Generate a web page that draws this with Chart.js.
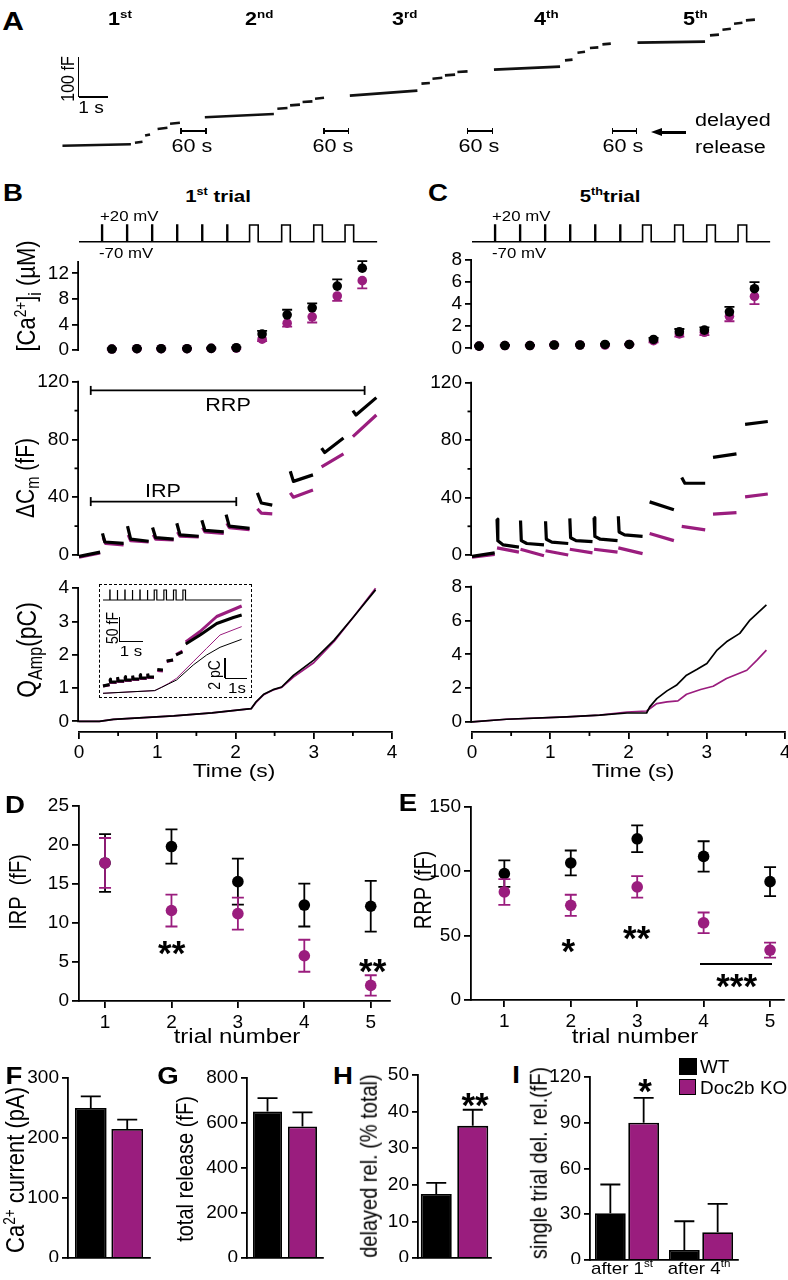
<!DOCTYPE html>
<html><head><meta charset="utf-8"><title>Doc2b figure</title>
<script src="https://cdn.jsdelivr.net/npm/chart.js@4.4.1/dist/chart.umd.min.js"></script>
<style>
html,body{margin:0;padding:0;background:#fff;}
#fig{position:relative;width:788px;height:1280px;overflow:hidden;font-family:'Liberation Sans',Arial,Helvetica,sans-serif;color:#000;}
#fig canvas{position:absolute;}
.t{position:absolute;white-space:nowrap;line-height:1;}
.t sup{font-size:0.62em;vertical-align:0.6em;line-height:0;}
.t sub{font-size:0.7em;vertical-align:-0.3em;line-height:0;}
.ln{position:absolute;background:#000;}
</style></head>
<body><div id="fig"></div>
<script>
// ================= DATA =================
// Panel A: capacitance of 5 successive trials (x: s, y: fF; null = gap)
const aTime = [0.43,2.79,null, 2.93,3.19,null, 3.28,3.45,null, 3.71,4.05,null, 4.14,4.48,null,
  5.34,7.72,null, 7.84,8.19,null, 8.28,8.62,null, 8.71,9.05,null, 9.14,9.45,null,
  10.34,12.67,null, 12.81,13.10,null, 13.19,13.53,null, 13.62,13.97,null, 14.05,14.40,null,
  15.31,17.59,null, 17.76,18.02,null, 18.19,18.45,null, 18.62,18.91,null, 19.05,19.34,null,
  20.26,22.59,null, 22.76,23.07,null, 23.19,23.48,null, 23.59,23.88,null, 24.00,24.31];
const aCap = [0.75,4.25,null, 8,10.5,null, 26,29,null, 42.5,45.5,null, 55.5,58,null,
  72,80,null, 93,95,null, 101.5,103.5,null, 110,111.5,null, 118,120.5,null,
  126,138.5,null, 156,157.5,null, 168,170.5,null, 176.5,178.5,null, 185,186.5,null,
  191,198.5,null, 214,216,null, 233,235.5,null, 245,246.5,null, 254,256,null,
  258.5,261,null, 276.5,278.5,null, 290.5,293,null, 305.5,308,null, 314,316];
const trialLabels = ['1<sup>st</sup>','2<sup>nd</sup>','3<sup>rd</sup>','4<sup>th</sup>','5<sup>th</sup>'];

// Stimulation protocol (s, mV)
const pulseStart = [0.29,0.61,0.93,1.25,1.57,1.89,2.18,2.59,3.00,3.40];
const pulseDur   = [0.01,0.01,0.01,0.01,0.01,0.01,0.11,0.11,0.11,0.11];
const vHold = -70, vStep = 20;

// [Ca2+]i (uM), 1st trial (B) and 5th trial (C)
const caTimeB = [0.42,0.74,1.05,1.38,1.69,2.01,2.34,2.66,2.98,3.30,3.62];
const caWT_B = [0.15,0.2,0.2,0.2,0.25,0.35,2.5,5.5,6.6,10.0,12.8];
const caWT_Bsem = [0.1,0.1,0.1,0.1,0.1,0.1,0.5,0.8,0.7,1.05,1.1];
const caKO_B = [0.15,0.2,0.2,0.2,0.25,0.3,1.7,4.2,5.2,8.45,10.85];
const caKO_Bsem = [0.1,0.1,0.1,0.1,0.1,0.1,0.3,0.55,0.9,0.75,1.2];
const caTimeC = [0.09,0.42,0.74,1.05,1.38,1.70,2.01,2.32,2.65,2.97,3.29,3.61];
const caWT_C = [0.2,0.25,0.25,0.3,0.3,0.35,0.35,0.8,1.5,1.65,3.3,5.4];
const caWT_Csem = [0.05,0.05,0.05,0.05,0.05,0.05,0.05,0.15,0.25,0.25,0.45,0.6];
const caKO_C = [0.2,0.25,0.25,0.3,0.3,0.3,0.35,0.7,1.3,1.45,2.9,4.7];
const caKO_Csem = [0.05,0.05,0.05,0.05,0.05,0.05,0.05,0.15,0.25,0.25,0.45,0.7];

// Delta Cm traces (s, fF)
const dcmTimeB_WT = [0,0.27,null, 0.30,0.33,0.57,null, 0.62,0.66,0.89,null, 0.94,0.98,1.21,null, 1.25,1.29,1.53,null, 1.57,1.61,1.85,null, 1.88,1.92,2.18,null, 2.28,2.33,2.47,null, 2.70,2.74,2.99,null, 3.10,3.14,3.38,null, 3.50,3.54,3.80];
const dcmWT_B     = [-1,2,null, 15,9,8,null, 20,11,9.5,null, 19,12,11,null, 22,14,13,null, 24,17,16,null, 28,20,18.5,null, 43,36,34.5,null, 58,51,55.5,null, 74,71,81,null, 100,97,109];
const dcmTimeB_KO = [0,0.27,null, 0.31,0.34,0.57,null, 0.63,0.66,0.89,null, 0.95,0.98,1.21,null, 1.26,1.29,1.53,null, 1.58,1.61,1.85,null, 1.89,1.92,2.18,null, 2.28,2.33,2.47,null, 2.70,2.74,2.99,null, 3.10,3.38,null, 3.50,3.80];
const dcmKO_B     = [-1.5,1.5,null, 12,8,7,null, 14,10,9,null, 14,11,10.5,null, 16,13,12.5,null, 19,16,15,null, 22,19,17.5,null, 32,29,28.5,null, 43,40,45,null, 61,70,null, 82,97];
const dcmTimeC_WT = [0,0.29,null, 0.32,0.33,0.40,0.60,null, 0.62,0.63,0.70,0.92,null, 0.94,0.95,1.02,1.23,null, 1.25,1.26,1.33,1.54,null, 1.56,1.57,1.64,1.86,null, 1.87,1.88,1.95,2.18,null, 2.27,2.58,null, 2.68,2.72,2.98,null, 3.08,3.38,null, 3.49,3.78];
const dcmWT_C     = [-1,1.5,null, 25,10,7,5.5,null, 24,10,8,7,null, 23.5,11,9,8,null, 25.5,12,10,9.3,null, 26,13,11,10,null, 27,16,14,13,null, 37,31.5,null, 54,50,50,null, 68,70.5,null, 91,93];
const dcmTimeC_KO = [0,0.29,null, 0.32,0.60,null, 0.62,0.92,null, 0.94,1.23,null, 1.25,1.54,null, 1.56,1.86,null, 1.87,2.18,null, 2.27,2.58,null, 2.68,2.98,null, 3.08,3.38,null, 3.49,3.78];
const dcmKO_C     = [-1.5,0.5,null, 5,2,null, 4,-0.5,null, 3,0,null, 4,1.5,null, 4,2,null, 5,1,null, 15,10,null, 20,17.5,null, 28.5,29.5,null, 40.5,42.5];
const rrpSpan = [0.15,3.65], rrpLevel = 114, irpSpan = [0.15,2.01], irpLevel = 37;

// Integrated Ca current Q_Amp (s, pC)
const qTimeB = [0,0.26,0.44,1.21,1.7,2.2,2.26,2.36,2.48,2.59,2.74,3.0,3.26,3.51,3.79];
const qWT_B  = [0,0,0.06,0.16,0.25,0.38,0.58,0.81,0.95,1.03,1.38,1.84,2.44,3.14,3.95];
const qKO_B  = [0,0,0.06,0.16,0.25,0.38,0.56,0.80,0.94,1.02,1.33,1.76,2.40,3.14,4.0];
const qTimeC_WT = [0,0.44,1.21,1.63,1.98,2.23,2.27,2.36,2.49,2.61,2.74,2.87,3.0,3.13,3.25,3.42,3.55,3.76];
const qWT_C     = [0,0.16,0.3,0.4,0.53,0.53,0.89,1.38,1.84,2.17,2.77,3.1,3.46,4.25,4.74,5.24,6.03,6.92];
const qTimeC_KO = [0,0.44,1.21,1.63,1.98,2.23,2.36,2.49,2.63,2.74,2.92,3.08,3.25,3.51,3.64,3.76];
const qKO_C     = [0,0.16,0.3,0.4,0.59,0.65,1.09,1.19,1.25,1.64,1.92,2.11,2.57,3.06,3.66,4.25];

// Inset (extended recording): Cm (fF) and Q (pC)
const insTime = [0,0.28,null, 0.30,0.32,0.58,null, 0.62,0.64,0.9,null, 0.94,0.96,1.22,null, 1.26,1.28,1.54,null, 1.58,1.60,1.86,null, 1.9,1.92,2.17,null, 2.31,2.55,null, 2.71,2.98,null, 3.11,3.38,null, 3.52,4.13,4.84,5.55,5.9];
const insCmWT = [0,3,null, 14,8,8,null, 18,10,10,null, 19,12,12,null, 21,14,14,null, 23,16,16,null, 25,18,18,null, 33,32,null, 50,52,null, 62,68,null, 84,102,125,137,142];
const insCmKO = [0,2,null, 12,7,7,null, 16,9,9,null, 17,11,11,null, 19,13,13,null, 21,15,15,null, 23,17,17,null, 31,30,null, 49,52,null, 63,70,null, 88,109,139,153,160];
const insQTime = [0,2.2,2.5,2.8,3.13,3.84,4.41,4.98,5.9];
const insQWT = [0,0.27,0.6,0.95,1.33,2.83,3.83,4.6,5.4];
const insQKO = [0,0.27,0.62,1.0,1.5,3.16,4.5,5.83,6.67];

// D, E: pool sizes per trial (fF, mean and SEM)
const trials = [1,2,3,4,5];
const irpWT = [17.7,19.8,15.3,12.3,12.15], irpWTsem = [3.7,2.2,2.95,2.75,3.25];
const irpKO = [17.7,11.6,11.2,5.8,2.0],    irpKOsem = [3.2,2.05,2.05,2.05,1.3];
const rrpWT = [98.2,106.5,125.3,111.6,92.0], rrpWTsem = [10.3,9.7,10.4,11.8,11.2];
const rrpKO = [84.0,73.6,87.9,60.0,38.8],    rrpKOsem = [10.0,8.2,8.4,8.0,5.8];

// F-I: bar values (WT, Doc2b KO) and SEM
const caCurrent = [250,215], caCurrentSem = [19.4,15.5];
const totalRelease = [651,585], totalReleaseSem = [60,62];
const delayedPct = [17.5,36.1], delayedPctSem = [3.0,4.4];
const singleGroups = ['after 1st','after 4th'];
const singleWT = [30.7,6.6], singleWTsem = [18.8,18.8];
const singleKO = [90.0,18.2], singleKOsem = [16.3,18.6];

// ================= DRAWING =================
const FONT = "'Liberation Sans', Arial, Helvetica, sans-serif";
const BLK = '#000000', PUR = '#9a1d7e';
const AXW = 1.8, TICKFS = 19;
const fig = document.getElementById('fig');
Chart.defaults.font.family = FONT;

const errPlug = {
  id: 'errb',
  beforeDatasetDraw(chart, args) {
    const ds = chart.data.datasets[args.index];
    if (!ds.errUp && !ds.errDn) return;
    const meta = args.meta, ys = chart.scales[meta.yAxisID], ctx = chart.ctx;
    ctx.save(); ctx.strokeStyle = ds.errColor || BLK; ctx.lineWidth = ds.errLW || 1.8;
    meta.data.forEach((el, i) => {
      const v = meta._parsed[i].y, x = el.x, cw = ds.capW || 5;
      [[ds.errUp, 1], [ds.errDn, -1]].forEach(([arr, s]) => {
        if (!arr || !arr[i]) return;
        const p0 = ys.getPixelForValue(v), p1 = ys.getPixelForValue(v + s * arr[i]);
        ctx.beginPath(); ctx.moveTo(x, p0); ctx.lineTo(x, p1);
        ctx.moveTo(x - cw, p1); ctx.lineTo(x + cw, p1); ctx.stroke();
      });
    });
    ctx.restore();
  }
};
const axPlug = {
  id: 'axl',
  afterDraw(chart) {
    const o = (chart.config.options.plugins || {}).axl || {};
    const ctx = chart.ctx, ca = chart.chartArea, xs = chart.scales.x, ys = chart.scales.y;
    ctx.save(); ctx.strokeStyle = BLK; ctx.lineWidth = AXW;
    const seg = (a, b, c, d) => { ctx.beginPath(); ctx.moveTo(a, b); ctx.lineTo(c, d); ctx.stroke(); };
    if (o.y) seg(ca.left - 0.9, ys.getPixelForValue(o.y[0]) + 0.9, ca.left - 0.9, ys.getPixelForValue(o.y[1]) - 0.9);
    (o.ym || []).forEach(v => { const p = ys.getPixelForValue(v); seg(ca.left - 4.5, p, ca.left, p); });
    (o.xm || []).forEach(v => { const p = xs.getPixelForValue(v); seg(p, ca.bottom, p, ca.bottom + 4); });
    ctx.restore();
  }
};

function scaleCfg(a, isX, fit) {
  const c = {
    type: a.type || 'linear', display: !!a.show, position: isX ? 'bottom' : 'left',
    grid: {display: !!a.ticks, drawOnChartArea: false, drawTicks: true, tickLength: a.tl || 7,
           color: BLK, tickColor: BLK, tickWidth: AXW, lineWidth: AXW},
    border: {display: !!a.border, color: BLK, width: AXW},
    ticks: {display: !!a.ticks, color: BLK, font: {family: FONT, size: a.fs || TICKFS}, padding: a.pad ?? 3,
            maxRotation: 0, minRotation: 0, autoSkip: false},
    afterFit: s => {
      if (isX) s.height = fit; else s.width = fit;
      s.paddingTop = 0; s.paddingBottom = 0; s.paddingLeft = 0; s.paddingRight = 0;
    }
  };
  if (c.type === 'linear') {
    c.min = a.min; c.max = a.max;
    if (a.ticks) c.afterBuildTicks = s => { s.ticks = a.ticks.map(v => ({value: v})); };
  }
  return c;
}
function mk(o) {
  const [x0, y0, x1, y1] = o.area, [ml, mt, mr, mb] = o.m || [0, 0, 0, 0];
  const W = Math.round(x1 - x0 + ml + mr), H = Math.round(y1 - y0 + mt + mb);
  const cv = document.createElement('canvas');
  cv.width = W; cv.height = H;
  Object.assign(cv.style, {left: (x0 - ml) + 'px', top: (y0 - mt) + 'px', width: W + 'px', height: H + 'px'});
  fig.appendChild(cv);
  const xs = o.x || {}, ys = o.y || {};
  const scales = {x: scaleCfg(xs, true, mb), y: scaleCfg(ys, false, ml)};
  if (o.extraY) Object.assign(scales, o.extraY);
  return new Chart(cv, {
    type: o.type || 'scatter',
    data: {labels: o.labels, datasets: o.datasets},
    options: {
      responsive: false, maintainAspectRatio: false, animation: false, devicePixelRatio: 1, events: [],
      layout: {autoPadding: false, padding: {left: ys.show ? 0 : ml, top: mt, right: mr, bottom: xs.show ? 0 : mb}},
      scales,
      plugins: {legend: {display: false}, tooltip: {enabled: false}, axl: o.axl || {}}
    },
    plugins: [errPlug, axPlug]
  });
}
function ln(ts, vs, color, w, extra) {
  let px = 0;
  const data = ts.map((t, i) => { if (t === null) return {x: px, y: null}; px = t; return {x: t, y: vs[i]}; });
  return Object.assign({data, showLine: true, borderColor: color, backgroundColor: color, borderWidth: w,
    pointRadius: 0, spanGaps: false, tension: 0, borderJoinStyle: 'round'}, extra || {});
}
function sc(xs, vs, color, extra) {
  return Object.assign({data: xs.map((x, i) => ({x, y: vs[i]})), showLine: false, pointRadius: 4.8,
    pointBackgroundColor: color, pointBorderColor: color, pointBorderWidth: 0, backgroundColor: color,
    borderColor: color, errColor: color, capW: 5}, extra || {});
}
function bracket(span, level) {
  return {data: [{x: span[0], y: level}, {x: span[1], y: level}], showLine: true, borderColor: BLK, borderWidth: 1.8,
    pointStyle: 'line', pointRotation: 90, pointRadius: 4.5, pointBorderColor: BLK, pointBorderWidth: 1.8};
}
function stimPts(tEnd) {
  const p = [{x: 0, y: vHold}];
  pulseStart.forEach((s, i) => { const e = s + pulseDur[i]; p.push({x: s, y: vHold}, {x: s, y: vStep}, {x: e, y: vStep}, {x: e, y: vHold}); });
  p.push({x: tEnd, y: vHold});
  return p;
}
function stimDs(tEnd, w, axis) {
  return {data: stimPts(tEnd), showLine: true, borderColor: BLK, borderWidth: w, pointRadius: 0, tension: 0, yAxisID: axis || 'y'};
}

// ---- Panel A
mk({area: [50, 10, 770, 160], x: {min: 0, max: 24.83}, y: {min: -35, max: 340},
  datasets: [ln(aTime, aCap, '#111', 2.6)]});

// ---- Panel B (1st trial) & C (5th trial)
const colB = {x0: 79, x1: 391.5}, colC = {x0: 472, x1: 785.2};
[colB, colC].forEach(c => {
  mk({area: [c.x0, 222, c.x1, 245], x: {min: 0, max: 4}, y: {min: -87.8, max: 36.2},
    datasets: [stimDs(3.81, 1.6)]});
});
mk({area: [79, 256, 391.5, 362], m: [79, 12, 4, 0], x: {min: 0, max: 4},
  y: {show: true, min: -1.878, max: 14.71, ticks: [0, 4, 8, 12]}, axl: {y: [0, 13.8]},
  datasets: [sc(caTimeB, caWT_B, BLK, {errUp: caWT_Bsem}), sc(caTimeB, caKO_B, PUR, {errDn: caKO_Bsem})]});
mk({area: [472, 256, 785.2, 362], m: [50, 12, 2, 0], x: {min: 0, max: 4},
  y: {show: true, min: -1.24, max: 8.36, ticks: [0, 2, 4, 6, 8]}, axl: {y: [0, 8]},
  datasets: [sc(caTimeC, caWT_C, BLK, {errUp: caWT_Csem}), sc(caTimeC, caKO_C, PUR, {errDn: caKO_Csem})]});
mk({area: [79, 378, 391.5, 565], m: [79, 12, 4, 0], x: {min: 0, max: 4},
  y: {show: true, min: -6.93, max: 122.6, ticks: [0, 40, 80, 120]}, axl: {y: [0, 120], ym: [20, 60, 100]},
  datasets: [bracket(rrpSpan, rrpLevel), bracket(irpSpan, irpLevel),
    ln(dcmTimeB_WT, dcmWT_B, BLK, 3.2), ln(dcmTimeB_KO, dcmKO_B, PUR, 3.2)]});
mk({area: [472, 378, 785.2, 565], m: [50, 12, 2, 0], x: {min: 0, max: 4},
  y: {show: true, min: -6.96, max: 123.3, ticks: [0, 40, 80, 120]}, axl: {y: [0, 120], ym: [20, 60, 100]},
  datasets: [ln(dcmTimeC_WT, dcmWT_C, BLK, 3.2), ln(dcmTimeC_KO, dcmKO_C, PUR, 3.2)]});
mk({area: [79, 585, 391.5, 731.7], m: [79, 12, 8, 34],
  x: {show: true, border: true, min: 0, max: 4, ticks: [0, 1, 2, 3, 4], pad: 2},
  y: {show: true, min: -0.322, max: 4.096, ticks: [0, 1, 2, 3, 4]}, axl: {y: [0, 4], xm: [0.5, 1.5, 2.5, 3.5]},
  datasets: [ln(qTimeB, qWT_B, BLK, 1.7), ln(qTimeB, qKO_B, PUR, 1.7)]});
mk({area: [472, 585, 785.2, 731.7], m: [50, 12, 2.8, 34],
  x: {show: true, border: true, min: 0, max: 4, ticks: [0, 1, 2, 3, 4], pad: 2},
  y: {show: true, min: -0.593, max: 8.10, ticks: [0, 2, 4, 6, 8]}, axl: {y: [0, 8], xm: [0.5, 1.5, 2.5, 3.5]},
  datasets: [ln(qTimeC_WT, qWT_C, BLK, 1.7), ln(qTimeC_KO, qKO_C, PUR, 1.7)]});
// inset
mk({area: [100, 585, 252, 697], x: {min: -0.128, max: 6.34}, y: {min: -22, max: 202},
  extraY: {yQ: {display: false, min: -0.37, max: 10.83}, yV: {display: false, min: -943, max: 65}},
  datasets: [stimDs(5.9, 1.2, 'yV'),
    ln(insTime, insCmWT, BLK, 3), ln(insTime, insCmKO, PUR, 3),
    ln(insQTime, insQWT, BLK, 1, {yAxisID: 'yQ'}), ln(insQTime, insQKO, PUR, 1, {yAxisID: 'yQ'})]});

// ---- Panel D & E
mk({area: [79, 806, 390, 1000.7], m: [79, 12, 6, 30],
  x: {show: true, border: true, min: 0.608, max: 5.29, ticks: trials},
  y: {show: true, border: true, min: 0, max: 25, ticks: [0, 5, 10, 15, 20, 25]},
  datasets: [sc(trials, irpKO, PUR, {errUp: irpKOsem, errDn: irpKOsem, pointRadius: 5.8, capW: 6}),
             sc(trials, irpWT, BLK, {errUp: irpWTsem, errDn: irpWTsem, pointRadius: 5.8, capW: 6})]});
mk({area: [470.7, 806.7, 783.3, 1000], m: [55, 12, 4, 30],
  x: {show: true, border: true, min: 0.498, max: 5.21, ticks: trials},
  y: {show: true, border: true, min: 0, max: 150, ticks: [0, 50, 100, 150]},
  datasets: [sc(trials, rrpKO, PUR, {errUp: rrpKOsem, errDn: rrpKOsem, pointRadius: 5.8, capW: 6}),
             sc(trials, rrpWT, BLK, {errUp: rrpWTsem, errDn: rrpWTsem, pointRadius: 5.8, capW: 6})]});

// ---- Panels F-I (bars)
function barDs(vals, sem, color, cp, bp) {
  return {data: vals, backgroundColor: color, borderColor: BLK, borderWidth: 1.8, categoryPercentage: cp,
    barPercentage: bp, errUp: sem, errColor: BLK, capW: 10};
}
function barPair(area, m, vals, sems, yMax, ticks, cp, bp) {
  mk({type: 'bar', area, m, labels: [''],
    x: {show: true, border: true, type: 'category'},
    y: {show: true, border: true, min: 0, max: yMax, ticks, tl: 6},
    datasets: [barDs([vals[0]], [sems[0]], BLK, cp, bp), barDs([vals[1]], [sems[1]], PUR, cp, bp)]});
}
barPair([68.3, 1078.3, 150, 1258.3], [68, 12, 4, 4], caCurrent, caCurrentSem, 300, [0, 100, 200, 300], 0.889, 0.87);
barPair([246.7, 1078.3, 323, 1258.3], [55, 12, 4, 4], totalRelease, totalReleaseSem, 800, [0, 200, 400, 600, 800], 0.92, 0.83);
barPair([418.3, 1075, 491, 1258.3], [40, 12, 4, 4], delayedPct, delayedPctSem, 50, [0, 10, 20, 30, 40, 50], 1.0, 0.85);
mk({type: 'bar', area: [590, 1076.7, 738.3, 1259.3], m: [40, 12, 4, 4], labels: singleGroups,
  x: {show: true, border: true, type: 'category'},
  y: {show: true, border: true, min: 0, max: 120, ticks: [0, 30, 60, 90, 120], tl: 6},
  datasets: [barDs(singleWT, singleWTsem, BLK, 0.9, 0.925), barDs(singleKO, singleKOsem, PUR, 0.9, 0.925)]});

// ================= TEXT & ANNOTATIONS =================
function T(html, x, y, size, o = {}) {
  const d = document.createElement('div');
  d.className = 't'; d.innerHTML = html;
  d.style.fontSize = size + 'px';
  if (o.b) d.style.fontWeight = 'bold';
  d.style.left = x + 'px'; d.style.top = y + 'px';
  const s = o.s ?? 1.2;
  const ax = o.a === 'l' ? '0' : (o.a === 'r' ? '-100%' : '-50%');
  if (o.a === 'l') d.style.transformOrigin = '0 50%';
  d.style.transform = `translate(${ax},-50%)` + (o.r ? ` rotate(-90deg) scaleY(${s})` : ` scaleX(${s})`);
  fig.appendChild(d);
  return d;
}
function L(x0, y0, x1, y1, w = 1.8) {
  const d = document.createElement('div'); d.className = 'ln';
  if (y0 === y1) Object.assign(d.style, {left: x0 + 'px', top: (y0 - w / 2) + 'px', width: (x1 - x0) + 'px', height: w + 'px'});
  else Object.assign(d.style, {left: (x0 - w / 2) + 'px', top: y0 + 'px', width: w + 'px', height: (y1 - y0) + 'px'});
  fig.appendChild(d);
}
function star(str, x, y, size) { T(str, x, y + 0.2 * size, size, {b: true, s: 1.0}); }

// A
T('A', 13, 21, 25, {b: true});
const trialLabelX = [107.5, 245, 391.5, 534, 682.5];
trialLabels.forEach((h, i) => T(h, trialLabelX[i], 19, 18, {b: true, a: 'l'}));
L(78.5, 57, 78.5, 97); L(78.5, 97, 107.5, 97);
T('100 fF', 67.5, 79, 16, {r: true});
T('1 s', 91, 108, 16);
[[181, 206, 191.5], [324, 348.5, 332.5], [467.5, 492.5, 479], [612.5, 636.5, 622.5]].forEach(([a, b, tx]) => {
  L(a, 131, b, 131); L(a, 128, a, 134); L(b, 128, b, 134);
  T('60 s', tx, 146, 18);
});
L(660, 132.3, 686, 132.3, 3.5);
(function(){ const d = document.createElement('div');
  Object.assign(d.style, {position: 'absolute', left: '651px', top: '127.8px', width: 0, height: 0,
    borderTop: '4.5px solid transparent', borderBottom: '4.5px solid transparent', borderRight: '11px solid #000'});
  fig.appendChild(d); })();
T('delayed', 695, 120, 18, {a: 'l'});
T('release', 695, 146.5, 18, {a: 'l'});

// B / C
T('B', 13, 193, 23, {b: true});
T('C', 438, 193, 23, {b: true});
T('1<sup>st</sup> trial', 218, 196, 17, {b: true});
T('5<sup>th</sup>trial', 610, 196, 17, {b: true});
T('+20 mV', 100, 216, 14, {a: 'l'}); T('-70 mV', 98.7, 253, 14, {a: 'l'});
T('+20 mV', 492, 216, 14, {a: 'l'}); T('-70 mV', 491.7, 253, 14, {a: 'l'});
T('[Ca<sup>2+</sup>]<sub>i</sub> (µM)', 27, 296, 22, {r: true});
T('ΔC<sub>m</sub> (fF)', 25, 478, 21, {r: true});
T('Q<sub>Amp</sub>(pC)', 27, 650, 23, {r: true});
T('RRP', 228, 405, 18); T('IRP', 163, 491, 18);
T('Time (s)', 234, 770, 19); T('Time (s)', 633, 770, 19);
(function(){ const d = document.createElement('div');
  Object.assign(d.style, {position: 'absolute', left: '99.3px', top: '584.3px', width: '151px', height: '111.4px', border: '1.2px dashed #000'});
  fig.appendChild(d); })();
L(119.3, 616.7, 119.3, 641.7, 1.5); L(119.3, 641.7, 143.3, 641.7, 1.5);
T('50 fF', 111.7, 628, 14, {r: true}); T('1 s', 131, 651, 14);
L(225, 658.3, 225, 678.3, 1.5); L(225, 678.3, 247.3, 678.3, 1.5);
T('2 pC', 214, 675, 14, {r: true}); T('1s', 237.3, 688.3, 14);

// D / E
T('D', 15, 805, 23, {b: true}); T('E', 408, 803, 23, {b: true});
T('IRP&nbsp; (fF)', 18, 892, 20, {r: true}); T('RRP (fF)', 423, 890, 20, {r: true});
star('**', 171.7, 945, 35); star('**', 372.7, 962.7, 35);
star('*', 568.3, 943.3, 35); star('**', 636.7, 930, 35); star('***', 736.7, 978.3, 35);
L(700, 964, 771.7, 964);
T('trial number', 237, 1036, 20); T('trial number', 635, 1036, 20);

// F-I
T('F', 14, 1076, 23, {b: true}); T('G', 168, 1076, 23, {b: true});
T('H', 343, 1076, 23, {b: true}); T('I', 516, 1075, 23, {b: true});
T('Ca<sup>2+</sup> current (pA)', 16, 1170, 22, {r: true});
T('total release (fF)', 185, 1169, 20, {r: true});
T('delayed rel. (% total)', 368, 1166, 20, {r: true});
T('single trial del. rel.(fF)', 538, 1163, 20, {r: true});
star('**', 475, 1096.7, 35); star('*', 645, 1083, 35);
T('after 1<sup>st</sup>', 622, 1268, 17, {s: 1.1}); T('after 4<sup>th</sup>', 699, 1268, 17, {s: 1.1});
(function(){
  const a = document.createElement('div');
  Object.assign(a.style, {position: 'absolute', left: '679.3px', top: '1058px', width: '17.4px', height: '17px', background: BLK});
  fig.appendChild(a);
  const b = document.createElement('div');
  Object.assign(b.style, {position: 'absolute', left: '679.3px', top: '1079px', width: '14.4px', height: '14px', background: PUR, border: '1.5px solid #000'});
  fig.appendChild(b);
})();
T('WT', 700, 1067, 18, {a: 'l', s: 1.05});
T('Doc2b KO', 700, 1088, 18, {a: 'l', s: 1.05});
</script></body></html>
